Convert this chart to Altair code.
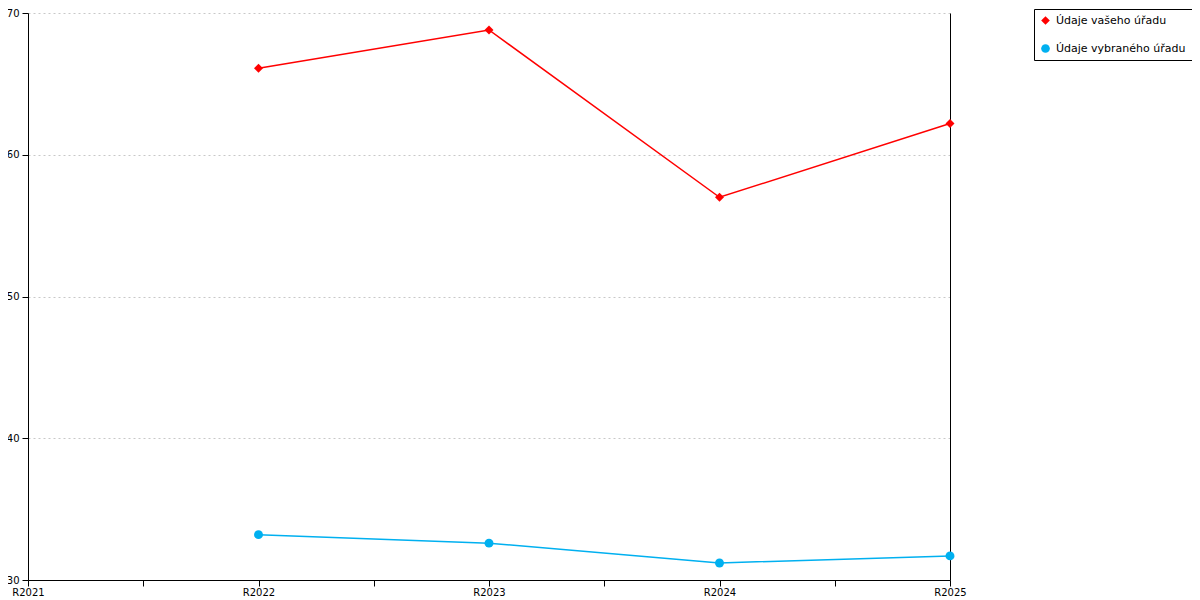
import altair as alt
import pandas as pd

categories = ["R2022", "R2023", "R2024", "R2025"]
series_names = ["Údaje vašeho úřadu", "Údaje vybraného úřadu"]
vaseho = [66.1, 68.8, 57.0, 62.2]
vybraneho = [33.2, 32.6, 31.2, 31.7]
x_ticks = [2021, 2021.5, 2022, 2022.5, 2023, 2023.5, 2024, 2024.5, 2025]
y_ticks = [30, 40, 50, 60, 70]

rows = []
for name, vals in zip(series_names, [vaseho, vybraneho]):
    for c, v in zip(categories, vals):
        rows.append({"cat": c, "year": int(c[1:]), "series": name, "value": v})
df = pd.DataFrame(rows)

FONT = "DejaVu Sans"
COLORS = ["#ff0000", "#00b0f0"]

xenc = alt.X(
    "year:Q",
    scale=alt.Scale(domain=[2021, 2025], nice=False, zero=False),
    axis=alt.Axis(
        values=x_ticks,
        labelExpr="datum.value % 1 == 0 ? 'R' + datum.value : ''",
        title=None, grid=False, domainColor="black", tickColor="black",
        labelFont=FONT, labelFontSize=10, labelColor="black", tickSize=6,
        labelFlush=False, labelPadding=1,
    ),
)
yscale = alt.Scale(domain=[30, 70], nice=False, zero=False)

legend = alt.Legend(
    orient="none", legendX=1006, legendY=-4, title=None,
    strokeColor="black", fillColor="white", padding=6,
    labelFont=FONT, labelFontSize=11, labelColor="black",
    symbolSize=75, rowPadding=16, labelOffset=5, symbolStrokeWidth=0,
    symbolType="circle",
)
cscale = alt.Scale(domain=series_names, range=COLORS)

lines = alt.Chart(df).mark_line(strokeWidth=1.5).encode(
    x=xenc,
    y=alt.Y(
        "value:Q", scale=yscale,
        axis=alt.Axis(
            values=y_ticks, title=None, grid=True, gridColor="#c8c8c8",
            gridDash=[2, 3], domainColor="black", tickColor="black",
            labelFont=FONT, labelFontSize=10, labelColor="black", tickSize=6,
            labelPadding=3,
        ),
    ),
    color=alt.Color("series:N", scale=cscale, legend=legend),
)

points = alt.Chart(df).mark_point(filled=True, opacity=1, size=80).encode(
    x=xenc,
    y=alt.Y(
        "value:Q", scale=yscale,
        axis=alt.Axis(orient="right", labels=False, ticks=False, grid=False,
                      title=None, domainColor="black"),
    ),
    color=alt.Color("series:N", scale=cscale, legend=legend),
    shape=alt.Shape(
        "series:N",
        scale=alt.Scale(domain=series_names, range=["diamond", "circle"]),
        legend=legend,
    ),
)

chart = (
    alt.layer(lines, points)
    .resolve_axis(y="independent")
    .properties(
        width=922, height=567,
        autosize=alt.AutoSizeParams(type="none"),
        padding={"left": 20, "top": 5, "right": 242, "bottom": 19},
    )
    .configure_view(stroke=None)
)

chart.save("out.html", embed_options={"renderer": "svg", "actions": False})
